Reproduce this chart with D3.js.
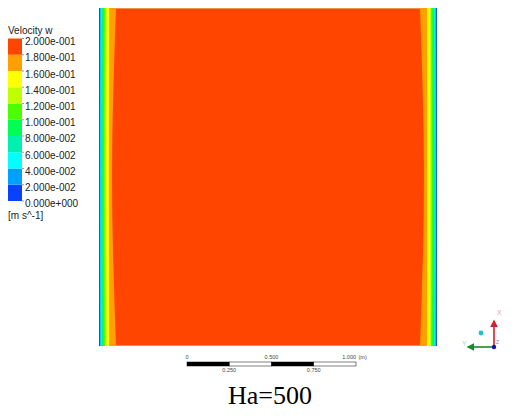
<!DOCTYPE html>
<html>
<head>
<meta charset="utf-8">
<script src="https://cdn.jsdelivr.net/npm/d3@7"></script>
<style>
body { margin: 0; background: #fff; }
text { font-family: "Liberation Sans", Arial, sans-serif; }
</style>
</head>
<body>
<svg id="chart"></svg>
<script>
// contour levels (m/s) and legend labels
var levels = [0, 0.02, 0.04, 0.06, 0.08, 0.1, 0.12, 0.14, 0.16, 0.18, 0.2]
var levelLabels = ["0.000e+000", "2.000e-002", "4.000e-002", "6.000e-002", "8.000e-002",
	"1.000e-001", "1.200e-001", "1.400e-001", "1.600e-001", "1.800e-001", "2.000e-001"]
var bandColors = ["#0a40ff", "#00a0ff", "#00ffff", "#00f0b0", "#00ff55",
	"#4cff00", "#c0ff00", "#ffff00", "#ffa000", "#ff4500"]

// distance (m) of each contour line (0.02 .. 0.18) from the side walls,
// read at the ends (top/bottom) and at the middle of the section
var stations = [0, 0.5, 1]
var wallDistEnd = [0.0024, 0.0047, 0.0074, 0.0104, 0.0139, 0.0178, 0.0222, 0.0296, 0.0503]
var wallDistMid = [0.0021, 0.0041, 0.0065, 0.0095, 0.0127, 0.0163, 0.0207, 0.029, 0.0385]

// scale bar ticks (m)
var scaleTicks = [0, 0.25, 0.5, 0.75, 1]
var scaleTop = ["0", "0.500", "1.000"]
var scaleBottom = ["0.250", "0.750"]

var width = 529
var height = 418

var svg = d3.select("#chart").attr("width", width).attr("height", height)

var xScale = d3.scaleLinear().domain([0, 1]).range([99, 437])
var yScale = d3.scaleLinear().domain([0, 1]).range([8, 346])

// base band fills the whole section
svg.append("rect")
	.attr("x", xScale(0))
	.attr("y", yScale(0))
	.attr("width", xScale(1) - xScale(0))
	.attr("height", yScale(1) - yScale(0))
	.attr("fill", bandColors[0])

var area = d3.area()
	.y(d => yScale(d.t))
	.x0(d => xScale(d.d))
	.x1(d => xScale(1 - d.d))
	.curve(d3.curveNatural)

wallDistEnd.forEach(function (de, i) {
	var pts = stations.map(function (t) {
		return { t: t, d: t == 0.5 ? wallDistMid[i] : de }
	})
	svg.append("path")
		.attr("d", area(pts))
		.attr("fill", bandColors[i + 1])
})

// thin layer on the end walls
svg.selectAll(".endwall")
	.data([0, 1])
	.enter()
	.append("line")
	.attr("x1", xScale(wallDistEnd[8]))
	.attr("x2", xScale(1 - wallDistEnd[8]))
	.attr("y1", d => yScale(d) + (d ? -0.5 : 0.5))
	.attr("y2", d => yScale(d) + (d ? -0.5 : 0.5))
	.attr("stroke", "#f09050")
	.attr("stroke-width", 1)

// legend
var legY = d3.scaleLinear().domain([0, 0.2]).range([201, 38.5])
svg.append("text").attr("x", 8).attr("y", 34).attr("font-size", 10).attr("fill", "#222").text("Velocity w")
svg.selectAll(".band")
	.data(d3.range(10))
	.enter()
	.append("rect")
	.attr("x", 8)
	.attr("width", 14)
	.attr("y", d => legY(levels[d + 1]))
	.attr("height", d => legY(levels[d]) - legY(levels[d + 1]))
	.attr("fill", d => bandColors[d])
svg.selectAll(".ltick")
	.data(levels)
	.enter()
	.append("line")
	.attr("x1", 22)
	.attr("x2", 24)
	.attr("y1", d => legY(d))
	.attr("y2", d => legY(d))
	.attr("stroke", "#555")
	.attr("stroke-width", 0.6)
svg.selectAll(".llab")
	.data(levels)
	.enter()
	.append("text")
	.attr("x", 25)
	.attr("y", (d, i) => legY(d) + 6.2 + i * 0.05)
	.attr("font-size", 10)
	.attr("fill", "#222")
	.text((d, i) => levelLabels[i])
svg.append("text").attr("x", 8).attr("y", 219).attr("font-size", 10).attr("fill", "#222").text("[m s^-1]")

// scale bar
var sb = d3.scaleLinear().domain([0, 1]).range([187, 356])
svg.selectAll(".seg")
	.data(d3.range(4))
	.enter()
	.append("rect")
	.attr("x", d => sb(scaleTicks[d]))
	.attr("y", 362)
	.attr("width", d => sb(scaleTicks[d + 1]) - sb(scaleTicks[d]))
	.attr("height", 4)
	.attr("fill", d => (d % 2 ? "#fff" : "#000"))
	.attr("stroke", "#000")
	.attr("stroke-width", 0.5)
svg.selectAll(".stop")
	.data([0, 0.5, 1])
	.enter()
	.append("text")
	.attr("x", d => sb(d))
	.attr("y", 359)
	.attr("text-anchor", (d, i) => (i == 2 ? "end" : "middle"))
	.attr("font-size", 5.5)
	.attr("fill", "#444")
	.text((d, i) => scaleTop[i])
svg.append("text").attr("x", sb(1) + 2.5).attr("y", 359).attr("font-size", 5.5).attr("fill", "#444").text("(m)")
svg.selectAll(".sbot")
	.data([0.25, 0.75])
	.enter()
	.append("text")
	.attr("x", d => sb(d))
	.attr("y", 372)
	.attr("text-anchor", "middle")
	.attr("font-size", 5.5)
	.attr("fill", "#444")
	.text((d, i) => scaleBottom[i])

// caption
svg.append("text")
	.attr("x", 270)
	.attr("y", 404)
	.attr("text-anchor", "middle")
	.style("font-family", "'Liberation Serif', 'Times New Roman', serif")
	.attr("font-size", 26)
	.attr("fill", "#000")
	.text("Ha=500")

// axis triad
var defs = svg.append("defs")
function marker(id, color) {
	defs.append("marker")
		.attr("id", id)
		.attr("viewBox", "0 0 10 10")
		.attr("refX", 8)
		.attr("refY", 5)
		.attr("markerWidth", 5)
		.attr("markerHeight", 5)
		.attr("orient", "auto")
		.append("path")
		.attr("d", "M0,0L10,5L0,10z")
		.attr("fill", color)
}
marker("arx", "#d0202a")
marker("ary", "#1a8a2a")
var ox = 494, oy = 347
svg.append("line").attr("x1", ox).attr("y1", oy).attr("x2", ox).attr("y2", 321)
	.attr("stroke", "#d0202a").attr("stroke-width", 1.6).attr("marker-end", "url(#arx)")
svg.append("line").attr("x1", ox).attr("y1", oy).attr("x2", 468).attr("y2", oy)
	.attr("stroke", "#1a8a2a").attr("stroke-width", 1.6).attr("marker-end", "url(#ary)")
svg.append("circle").attr("cx", ox).attr("cy", oy).attr("r", 2.2).attr("fill", "#1010c0")
svg.append("circle").attr("cx", 481).attr("cy", 333).attr("r", 2.4).attr("fill", "#20c0c8")
svg.append("text").attr("x", 497).attr("y", 315).attr("font-size", 7).attr("fill", "#f0a0a8").text("X")
svg.append("text").attr("x", 462).attr("y", 346).attr("font-size", 7).attr("fill", "#a8d8a8").text("Y")
svg.append("text").attr("x", 496).attr("y", 344).attr("font-size", 5).attr("fill", "#8080c0").text("Z")
</script>
</body>
</html>
